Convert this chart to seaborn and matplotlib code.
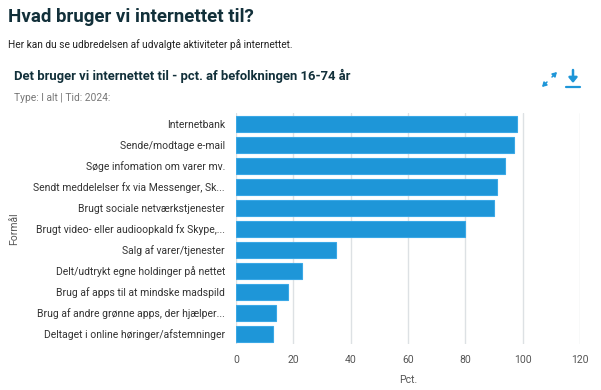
import seaborn as sns
import matplotlib.pyplot as plt
import pandas as pd
from matplotlib.lines import Line2D
from matplotlib.patches import FancyArrowPatch

categories = [
    "Internetbank",
    "Sende/modtage e-mail",
    "Søge infomation om varer mv.",
    "Sendt meddelelser fx via Messenger, Sk...",
    "Brugt sociale netværkstjenester",
    "Brugt video- eller audioopkald fx Skype,...",
    "Salg af varer/tjenester",
    "Delt/udtrykt egne holdinger på nettet",
    "Brug af apps til at mindske madspild",
    "Brug af andre grønne apps, der hjælper...",
    "Deltaget i online høringer/afstemninger",
]
pct = [98, 97, 94, 91, 90, 80, 35, 23, 18, 14, 13]
xticks = [0, 20, 40, 60, 80, 100, 120]

df = pd.DataFrame({"Formål": categories, "Pct.": pct})

sns.set_theme(style="white")
plt.rcParams["font.family"] = ["Roboto", "DejaVu Sans"]

dark = "#12303a"
grey = "#555555"
blue = "#1e96d8"

fig = plt.figure(figsize=(6.01, 3.90), dpi=100)
ax = fig.add_axes([0.3927, 0.117, 0.5724, 0.592])

sns.barplot(data=df, x="Pct.", y="Formål", color=blue, saturation=1,
            width=0.78, edgecolor="#3aa8e6", linewidth=0.8, ax=ax, zorder=3)

ax.set_xlim(0, 120)
ax.set_xticks(xticks)
ax.grid(axis="x", color="#dde1e4", linewidth=1, zorder=0)
for s in ax.spines.values():
    s.set_visible(False)
ax.tick_params(axis="x", colors=grey, labelsize=7.5, length=0, pad=8)
ax.tick_params(axis="y", colors="#333333", labelsize=7.5, length=0, pad=8)
ax.set_xlabel("Pct.", color=grey, fontsize=7.5, labelpad=7)
ax.set_ylabel("Formål", color=grey, fontsize=7.5)
ax.yaxis.set_label_coords(-0.63, 0.5)

fig.text(8 / 601, 1 - 17 / 390, "Hvad bruger vi internettet til?", fontsize=13.5,
         fontweight="bold", color=dark, va="center", ha="left")
fig.text(8 / 601, 1 - 45 / 390, "Her kan du se udbredelsen af udvalgte aktiviteter på internettet.",
         fontsize=7.3, color="#222222", va="center", ha="left")
fig.text(14 / 601, 1 - 76 / 390, "Det bruger vi internettet til - pct. af befolkningen 16-74 år",
         fontsize=9.4, fontweight="bold", color=dark, va="center", ha="left")
fig.text(14 / 601, 1 - 98 / 390, "Type: I alt | Tid: 2024:", fontsize=7.4,
         color="#777777", va="center", ha="left")

# icons (expand and download)
def fx(px):
    return px / 601

def fy(py):
    return 1 - py / 390

for start, end in [((547, 82), (542, 87)), ((552, 77), (557, 72))]:
    fig.add_artist(FancyArrowPatch((fx(start[0]), fy(start[1])), (fx(end[0]), fy(end[1])),
                                   transform=fig.transFigure,
                                   arrowstyle="-|>,head_length=2.5,head_width=1.5",
                                   mutation_scale=1, shrinkA=0, shrinkB=0,
                                   color=blue, lw=1.1))
fig.add_artist(FancyArrowPatch((fx(573), fy(70)), (fx(573), fy(83)), transform=fig.transFigure,
                               arrowstyle="-|>,head_length=3,head_width=2.5", mutation_scale=1,
                               shrinkA=0, shrinkB=0, color=blue, lw=1.8))
fig.add_artist(Line2D([fx(566), fx(580)], [fy(86.5), fy(86.5)], transform=fig.transFigure,
                      color=blue, lw=1.6))

fig.savefig("out.png", dpi=100)
